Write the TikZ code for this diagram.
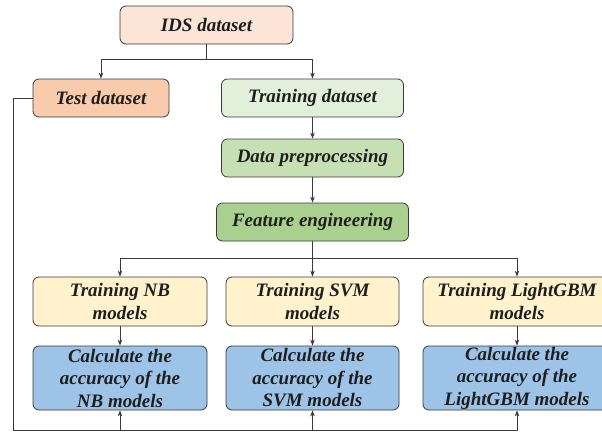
\documentclass[tikz,border=0pt]{standalone}
\usepackage{fontspec}
\setmainfont{Liberation Serif}
\usetikzlibrary{arrows.meta}
\definecolor{cids}{HTML}{FCE4D6}
\definecolor{ctest}{HTML}{F8CBAD}
\definecolor{ctrain}{HTML}{E2EFDA}
\definecolor{cprep}{HTML}{C6E0B4}
\definecolor{cfeat}{HTML}{A9D08E}
\definecolor{cmodel}{HTML}{FFF2CC}
\definecolor{ccalc}{HTML}{9DC3E6}
\definecolor{cline}{HTML}{3A3A3A}
\definecolor{ctext}{HTML}{1E1E1E}
\begin{document}
\begin{tikzpicture}[x=1pt,y=-1pt,
  box/.style={draw=cline, line width=0.8pt, rounded corners=6pt, inner sep=0pt,
    align=center, text=ctext,
    font=\fontsize{19}{22.5}\selectfont\bfseries\itshape},
  conn/.style={draw=cline, line width=0.8pt},
  arr/.style={conn, -{Stealth[length=6pt,width=4.5pt]}}]
\useasboundingbox (0,0) rectangle (602,431);
\clip (0,0) rectangle (602,431);
\fill[white] (0,0) rectangle (602,431);
\node[box, fill=cids, minimum width=173pt, minimum height=38pt] (ids) at (206.5,25) {IDS dataset};
\node[box, fill=ctest, minimum width=136pt, minimum height=38pt] (test) at (101,98) {Test dataset};
\node[box, fill=ctrain, minimum width=182pt, minimum height=38pt] (train) at (312.5,98) {Training dataset};
\node[box, fill=cprep, minimum width=182pt, minimum height=38pt] (prep) at (312.5,158) {Data preprocessing};
\node[box, fill=cfeat, minimum width=192pt, minimum height=38pt] (feat) at (312.5,222) {Feature engineering};
\node[box, fill=cmodel, minimum width=174pt, minimum height=49pt] (tnb) at (120,301.5) {Training NB\\models};
\node[box, fill=cmodel, minimum width=173pt, minimum height=49pt] (tsvm) at (312.5,301.5) {Training SVM\\models};
\node[box, fill=cmodel, minimum width=188pt, minimum height=49pt] (tlgb) at (517,301.5) {Training LightGBM\\models};
\node[box, fill=ccalc, minimum width=174pt, minimum height=64pt] (cnb) at (120,378) {Calculate the\\accuracy of the\\NB models};
\node[box, fill=ccalc, minimum width=173pt, minimum height=64pt] (csvm) at (312.5,378) {Calculate the\\accuracy of the\\SVM models};
\node[box, fill=ccalc, minimum width=188pt, minimum height=64pt] (clgb) at (517,378) {Calculate the\\accuracy of the\\LightGBM models};
% top split
\coordinate (j1) at (206.5,59);
\draw[conn] (ids.south) -- (j1);
\draw[arr] (j1) -| (test.north);
\draw[arr] (j1) -| (train.north);
\draw[arr] (train.south) -- (prep.north);
\draw[arr] (prep.south) -- (feat.north);
% feature split
\coordinate (j2) at (312.5,258);
\draw[conn] (feat.south) -- (j2);
\draw[arr] (j2) -| (tnb.north);
\draw[arr] (j2) -| (tsvm.north);
\draw[arr] (j2) -| (tlgb.north);
\draw[arr] (tnb.south) -- (cnb.north);
\draw[arr] (tsvm.south) -- (csvm.north);
\draw[arr] (tlgb.south) -- (clgb.north);
% feedback from test set
\coordinate (bl) at (13,430);
\coordinate (br) at (517,430);
\draw[arr] (test.west) -| (bl) -- (br) -- (clgb.south);
\draw[arr] (cnb.south |- bl) -- (cnb.south);
\draw[arr] (csvm.south |- bl) -- (csvm.south);
\end{tikzpicture}
\end{document}
